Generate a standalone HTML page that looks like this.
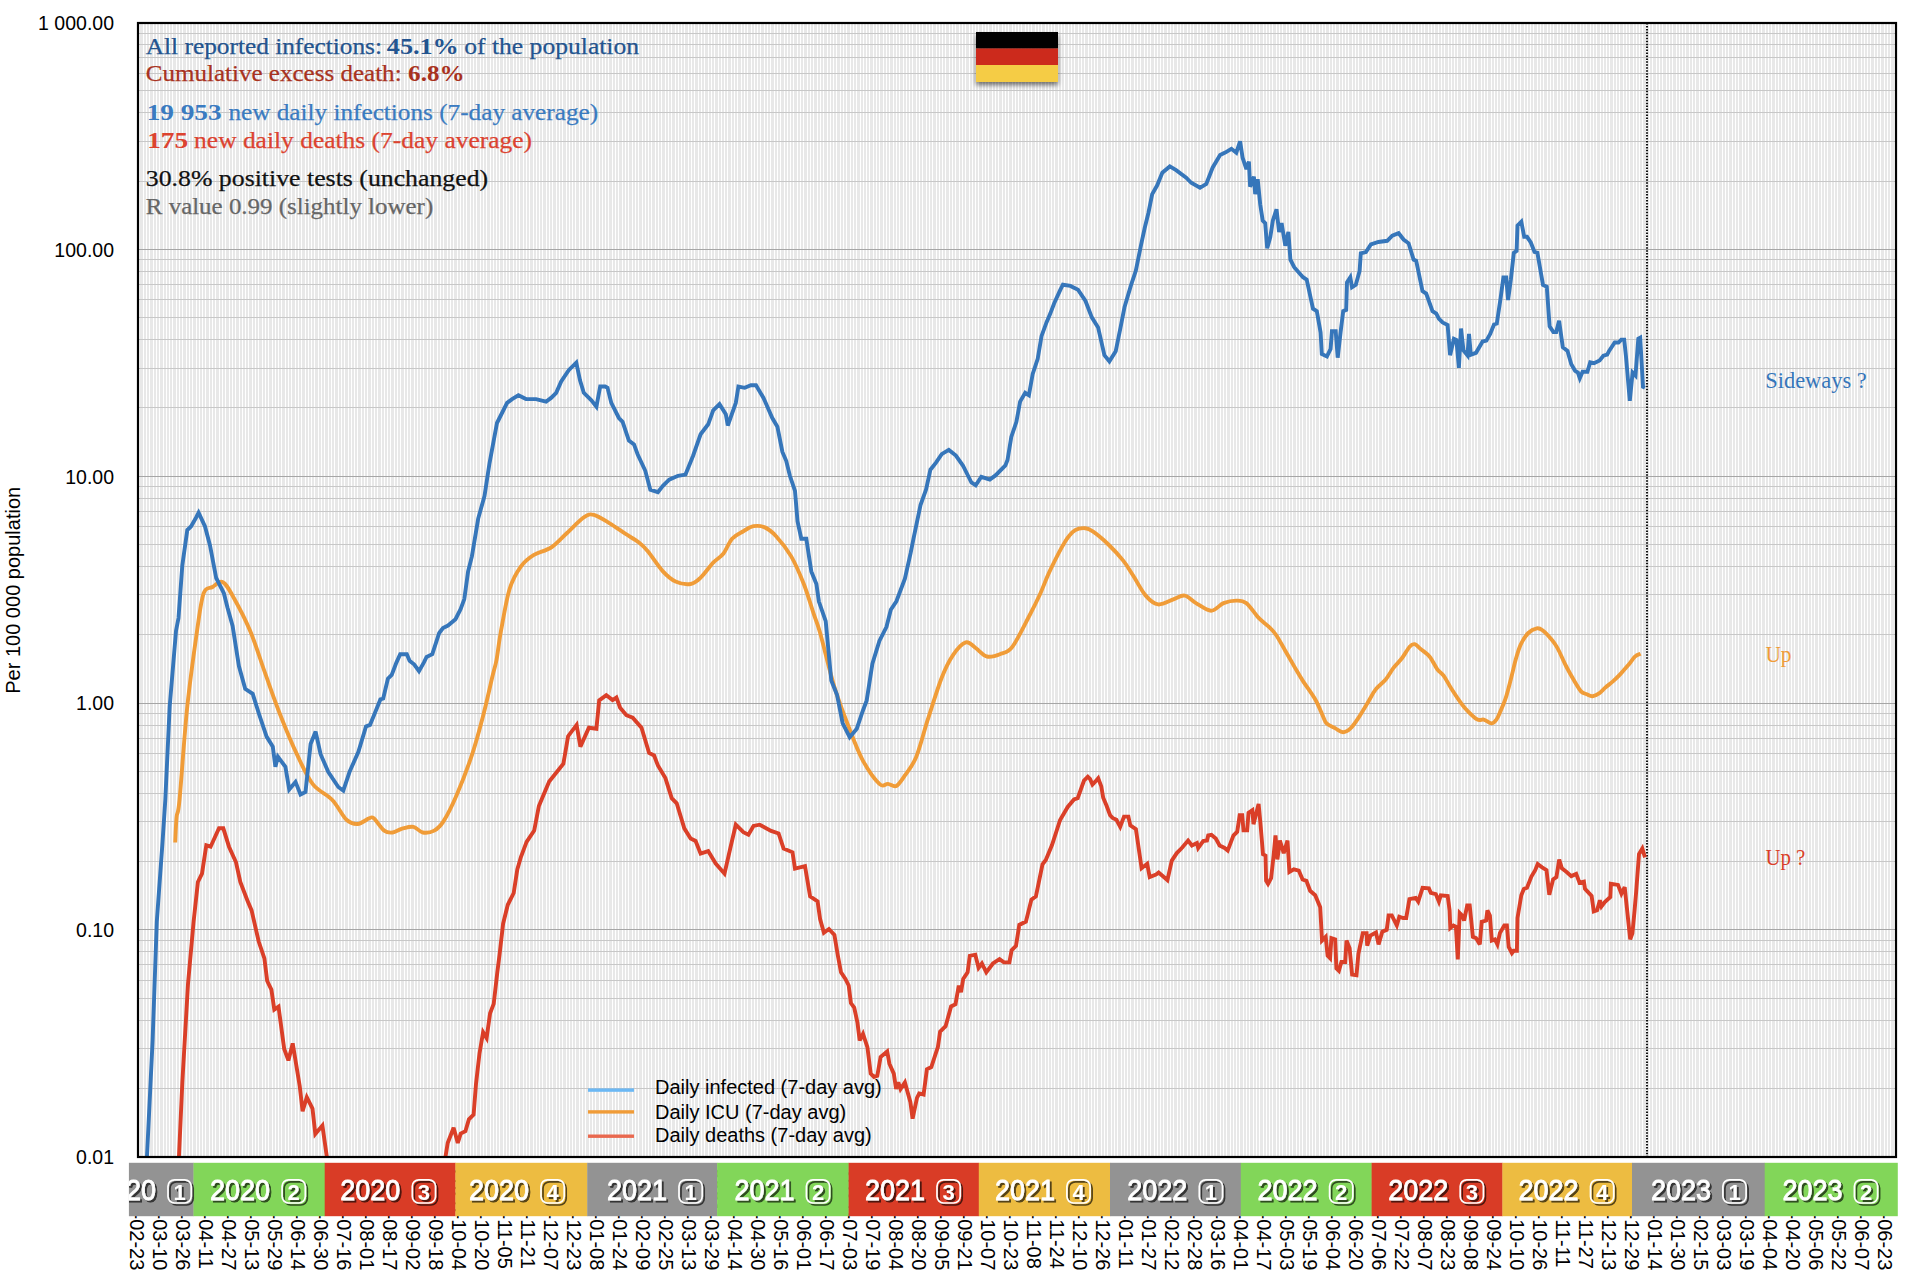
<!DOCTYPE html><html><head><meta charset="utf-8"><style>html,body{margin:0;padding:0;background:#fff;overflow:hidden;}svg{display:block;}</style></head><body>
<svg width="1910" height="1272" viewBox="0 0 1910 1272">
<defs>
<filter id="fshadow" x="-20%" y="-20%" width="140%" height="160%"><feGaussianBlur in="SourceAlpha" stdDeviation="2.5"/><feOffset dx="0" dy="3"/><feComponentTransfer><feFuncA type="linear" slope="0.55"/></feComponentTransfer><feMerge><feMergeNode/><feMergeNode in="SourceGraphic"/></feMerge></filter>
<filter id="tshadow" x="-10%" y="-10%" width="130%" height="140%"><feGaussianBlur in="SourceAlpha" stdDeviation="0.7"/><feOffset dx="1.5" dy="1.5"/><feComponentTransfer><feFuncA type="linear" slope="0.65"/></feComponentTransfer><feMerge><feMergeNode/><feMergeNode in="SourceGraphic"/></feMerge></filter>
<clipPath id="plotclip"><rect x="138" y="23" width="1758" height="1134"/></clipPath>
<clipPath id="barclip"><rect x="128.7" y="1150" width="1769.1" height="80"/></clipPath>
</defs>
<rect x="138" y="23" width="1758" height="1134" fill="#e8e8e8"/>
<path fill="#fff" d="M143 24h1v1132h-1zM146 24h1v1132h-1zM149 24h1v1132h-1zM153 24h1v1132h-1zM156 24h1v1132h-1zM159 24h1v1132h-1zM163 24h1v1132h-1zM166 24h1v1132h-1zM169 24h1v1132h-1zM172 24h1v1132h-1zM176 24h1v1132h-1zM179 24h1v1132h-1zM182 24h1v1132h-1zM186 24h1v1132h-1zM189 24h1v1132h-1zM192 24h1v1132h-1zM196 24h1v1132h-1zM199 24h1v1132h-1zM202 24h1v1132h-1zM205 24h1v1132h-1zM209 24h1v1132h-1zM212 24h1v1132h-1zM215 24h1v1132h-1zM219 24h1v1132h-1zM222 24h1v1132h-1zM225 24h1v1132h-1zM229 24h1v1132h-1zM232 24h1v1132h-1zM235 24h1v1132h-1zM239 24h1v1132h-1zM242 24h1v1132h-1zM245 24h1v1132h-1zM248 24h1v1132h-1zM252 24h1v1132h-1zM255 24h1v1132h-1zM258 24h1v1132h-1zM262 24h1v1132h-1zM265 24h1v1132h-1zM268 24h1v1132h-1zM272 24h1v1132h-1zM275 24h1v1132h-1zM278 24h1v1132h-1zM281 24h1v1132h-1zM285 24h1v1132h-1zM288 24h1v1132h-1zM291 24h1v1132h-1zM295 24h1v1132h-1zM298 24h1v1132h-1zM301 24h1v1132h-1zM305 24h1v1132h-1zM308 24h1v1132h-1zM311 24h1v1132h-1zM314 24h1v1132h-1zM318 24h1v1132h-1zM321 24h1v1132h-1zM324 24h1v1132h-1zM328 24h1v1132h-1zM331 24h1v1132h-1zM334 24h1v1132h-1zM338 24h1v1132h-1zM341 24h1v1132h-1zM344 24h1v1132h-1zM348 24h1v1132h-1zM351 24h1v1132h-1zM354 24h1v1132h-1zM357 24h1v1132h-1zM361 24h1v1132h-1zM364 24h1v1132h-1zM367 24h1v1132h-1zM371 24h1v1132h-1zM374 24h1v1132h-1zM377 24h1v1132h-1zM381 24h1v1132h-1zM384 24h1v1132h-1zM387 24h1v1132h-1zM390 24h1v1132h-1zM394 24h1v1132h-1zM397 24h1v1132h-1zM400 24h1v1132h-1zM404 24h1v1132h-1zM407 24h1v1132h-1zM410 24h1v1132h-1zM414 24h1v1132h-1zM417 24h1v1132h-1zM420 24h1v1132h-1zM423 24h1v1132h-1zM427 24h1v1132h-1zM430 24h1v1132h-1zM433 24h1v1132h-1zM437 24h1v1132h-1zM440 24h1v1132h-1zM443 24h1v1132h-1zM447 24h1v1132h-1zM450 24h1v1132h-1zM453 24h1v1132h-1zM457 24h1v1132h-1zM460 24h1v1132h-1zM463 24h1v1132h-1zM466 24h1v1132h-1zM470 24h1v1132h-1zM473 24h1v1132h-1zM476 24h1v1132h-1zM480 24h1v1132h-1zM483 24h1v1132h-1zM486 24h1v1132h-1zM490 24h1v1132h-1zM493 24h1v1132h-1zM496 24h1v1132h-1zM499 24h1v1132h-1zM503 24h1v1132h-1zM506 24h1v1132h-1zM509 24h1v1132h-1zM513 24h1v1132h-1zM516 24h1v1132h-1zM519 24h1v1132h-1zM523 24h1v1132h-1zM526 24h1v1132h-1zM529 24h1v1132h-1zM533 24h1v1132h-1zM536 24h1v1132h-1zM539 24h1v1132h-1zM542 24h1v1132h-1zM546 24h1v1132h-1zM549 24h1v1132h-1zM552 24h1v1132h-1zM556 24h1v1132h-1zM559 24h1v1132h-1zM562 24h1v1132h-1zM566 24h1v1132h-1zM569 24h1v1132h-1zM572 24h1v1132h-1zM575 24h1v1132h-1zM579 24h1v1132h-1zM582 24h1v1132h-1zM585 24h1v1132h-1zM589 24h1v1132h-1zM592 24h1v1132h-1zM595 24h1v1132h-1zM599 24h1v1132h-1zM602 24h1v1132h-1zM605 24h1v1132h-1zM608 24h1v1132h-1zM612 24h1v1132h-1zM615 24h1v1132h-1zM618 24h1v1132h-1zM622 24h1v1132h-1zM625 24h1v1132h-1zM628 24h1v1132h-1zM632 24h1v1132h-1zM635 24h1v1132h-1zM638 24h1v1132h-1zM642 24h1v1132h-1zM645 24h1v1132h-1zM648 24h1v1132h-1zM651 24h1v1132h-1zM655 24h1v1132h-1zM658 24h1v1132h-1zM661 24h1v1132h-1zM665 24h1v1132h-1zM668 24h1v1132h-1zM671 24h1v1132h-1zM675 24h1v1132h-1zM678 24h1v1132h-1zM681 24h1v1132h-1zM684 24h1v1132h-1zM688 24h1v1132h-1zM691 24h1v1132h-1zM694 24h1v1132h-1zM698 24h1v1132h-1zM701 24h1v1132h-1zM704 24h1v1132h-1zM708 24h1v1132h-1zM711 24h1v1132h-1zM714 24h1v1132h-1zM718 24h1v1132h-1zM721 24h1v1132h-1zM724 24h1v1132h-1zM727 24h1v1132h-1zM731 24h1v1132h-1zM734 24h1v1132h-1zM737 24h1v1132h-1zM741 24h1v1132h-1zM744 24h1v1132h-1zM747 24h1v1132h-1zM751 24h1v1132h-1zM754 24h1v1132h-1zM757 24h1v1132h-1zM760 24h1v1132h-1zM764 24h1v1132h-1zM767 24h1v1132h-1zM770 24h1v1132h-1zM774 24h1v1132h-1zM777 24h1v1132h-1zM780 24h1v1132h-1zM784 24h1v1132h-1zM787 24h1v1132h-1zM790 24h1v1132h-1zM793 24h1v1132h-1zM797 24h1v1132h-1zM800 24h1v1132h-1zM803 24h1v1132h-1zM807 24h1v1132h-1zM810 24h1v1132h-1zM813 24h1v1132h-1zM817 24h1v1132h-1zM820 24h1v1132h-1zM823 24h1v1132h-1zM827 24h1v1132h-1zM830 24h1v1132h-1zM833 24h1v1132h-1zM836 24h1v1132h-1zM840 24h1v1132h-1zM843 24h1v1132h-1zM846 24h1v1132h-1zM850 24h1v1132h-1zM853 24h1v1132h-1zM856 24h1v1132h-1zM860 24h1v1132h-1zM863 24h1v1132h-1zM866 24h1v1132h-1zM869 24h1v1132h-1zM873 24h1v1132h-1zM876 24h1v1132h-1zM879 24h1v1132h-1zM883 24h1v1132h-1zM886 24h1v1132h-1zM889 24h1v1132h-1zM893 24h1v1132h-1zM896 24h1v1132h-1zM899 24h1v1132h-1zM903 24h1v1132h-1zM906 24h1v1132h-1zM909 24h1v1132h-1zM912 24h1v1132h-1zM916 24h1v1132h-1zM919 24h1v1132h-1zM922 24h1v1132h-1zM926 24h1v1132h-1zM929 24h1v1132h-1zM932 24h1v1132h-1zM936 24h1v1132h-1zM939 24h1v1132h-1zM942 24h1v1132h-1zM945 24h1v1132h-1zM949 24h1v1132h-1zM952 24h1v1132h-1zM955 24h1v1132h-1zM959 24h1v1132h-1zM962 24h1v1132h-1zM965 24h1v1132h-1zM969 24h1v1132h-1zM972 24h1v1132h-1zM975 24h1v1132h-1zM978 24h1v1132h-1zM982 24h1v1132h-1zM985 24h1v1132h-1zM988 24h1v1132h-1zM992 24h1v1132h-1zM995 24h1v1132h-1zM998 24h1v1132h-1zM1002 24h1v1132h-1zM1005 24h1v1132h-1zM1008 24h1v1132h-1zM1012 24h1v1132h-1zM1015 24h1v1132h-1zM1018 24h1v1132h-1zM1021 24h1v1132h-1zM1025 24h1v1132h-1zM1028 24h1v1132h-1zM1031 24h1v1132h-1zM1035 24h1v1132h-1zM1038 24h1v1132h-1zM1041 24h1v1132h-1zM1045 24h1v1132h-1zM1048 24h1v1132h-1zM1051 24h1v1132h-1zM1054 24h1v1132h-1zM1058 24h1v1132h-1zM1061 24h1v1132h-1zM1064 24h1v1132h-1zM1068 24h1v1132h-1zM1071 24h1v1132h-1zM1074 24h1v1132h-1zM1078 24h1v1132h-1zM1081 24h1v1132h-1zM1084 24h1v1132h-1zM1088 24h1v1132h-1zM1091 24h1v1132h-1zM1094 24h1v1132h-1zM1097 24h1v1132h-1zM1101 24h1v1132h-1zM1104 24h1v1132h-1zM1107 24h1v1132h-1zM1111 24h1v1132h-1zM1114 24h1v1132h-1zM1117 24h1v1132h-1zM1121 24h1v1132h-1zM1124 24h1v1132h-1zM1127 24h1v1132h-1zM1130 24h1v1132h-1zM1134 24h1v1132h-1zM1137 24h1v1132h-1zM1140 24h1v1132h-1zM1144 24h1v1132h-1zM1147 24h1v1132h-1zM1150 24h1v1132h-1zM1154 24h1v1132h-1zM1157 24h1v1132h-1zM1160 24h1v1132h-1zM1163 24h1v1132h-1zM1167 24h1v1132h-1zM1170 24h1v1132h-1zM1173 24h1v1132h-1zM1177 24h1v1132h-1zM1180 24h1v1132h-1zM1183 24h1v1132h-1zM1187 24h1v1132h-1zM1190 24h1v1132h-1zM1193 24h1v1132h-1zM1197 24h1v1132h-1zM1200 24h1v1132h-1zM1203 24h1v1132h-1zM1206 24h1v1132h-1zM1210 24h1v1132h-1zM1213 24h1v1132h-1zM1216 24h1v1132h-1zM1220 24h1v1132h-1zM1223 24h1v1132h-1zM1226 24h1v1132h-1zM1230 24h1v1132h-1zM1233 24h1v1132h-1zM1236 24h1v1132h-1zM1239 24h1v1132h-1zM1243 24h1v1132h-1zM1246 24h1v1132h-1zM1249 24h1v1132h-1zM1253 24h1v1132h-1zM1256 24h1v1132h-1zM1259 24h1v1132h-1zM1263 24h1v1132h-1zM1266 24h1v1132h-1zM1269 24h1v1132h-1zM1272 24h1v1132h-1zM1276 24h1v1132h-1zM1279 24h1v1132h-1zM1282 24h1v1132h-1zM1286 24h1v1132h-1zM1289 24h1v1132h-1zM1292 24h1v1132h-1zM1296 24h1v1132h-1zM1299 24h1v1132h-1zM1302 24h1v1132h-1zM1306 24h1v1132h-1zM1309 24h1v1132h-1zM1312 24h1v1132h-1zM1315 24h1v1132h-1zM1319 24h1v1132h-1zM1322 24h1v1132h-1zM1325 24h1v1132h-1zM1329 24h1v1132h-1zM1332 24h1v1132h-1zM1335 24h1v1132h-1zM1339 24h1v1132h-1zM1342 24h1v1132h-1zM1345 24h1v1132h-1zM1348 24h1v1132h-1zM1352 24h1v1132h-1zM1355 24h1v1132h-1zM1358 24h1v1132h-1zM1362 24h1v1132h-1zM1365 24h1v1132h-1zM1368 24h1v1132h-1zM1372 24h1v1132h-1zM1375 24h1v1132h-1zM1378 24h1v1132h-1zM1382 24h1v1132h-1zM1385 24h1v1132h-1zM1388 24h1v1132h-1zM1391 24h1v1132h-1zM1395 24h1v1132h-1zM1398 24h1v1132h-1zM1401 24h1v1132h-1zM1405 24h1v1132h-1zM1408 24h1v1132h-1zM1411 24h1v1132h-1zM1415 24h1v1132h-1zM1418 24h1v1132h-1zM1421 24h1v1132h-1zM1424 24h1v1132h-1zM1428 24h1v1132h-1zM1431 24h1v1132h-1zM1434 24h1v1132h-1zM1438 24h1v1132h-1zM1441 24h1v1132h-1zM1444 24h1v1132h-1zM1448 24h1v1132h-1zM1451 24h1v1132h-1zM1454 24h1v1132h-1zM1457 24h1v1132h-1zM1461 24h1v1132h-1zM1464 24h1v1132h-1zM1467 24h1v1132h-1zM1471 24h1v1132h-1zM1474 24h1v1132h-1zM1477 24h1v1132h-1zM1481 24h1v1132h-1zM1484 24h1v1132h-1zM1487 24h1v1132h-1zM1491 24h1v1132h-1zM1494 24h1v1132h-1zM1497 24h1v1132h-1zM1500 24h1v1132h-1zM1504 24h1v1132h-1zM1507 24h1v1132h-1zM1510 24h1v1132h-1zM1514 24h1v1132h-1zM1517 24h1v1132h-1zM1520 24h1v1132h-1zM1524 24h1v1132h-1zM1527 24h1v1132h-1zM1530 24h1v1132h-1zM1533 24h1v1132h-1zM1537 24h1v1132h-1zM1540 24h1v1132h-1zM1543 24h1v1132h-1zM1547 24h1v1132h-1zM1550 24h1v1132h-1zM1553 24h1v1132h-1zM1557 24h1v1132h-1zM1560 24h1v1132h-1zM1563 24h1v1132h-1zM1567 24h1v1132h-1zM1570 24h1v1132h-1zM1573 24h1v1132h-1zM1576 24h1v1132h-1zM1580 24h1v1132h-1zM1583 24h1v1132h-1zM1586 24h1v1132h-1zM1590 24h1v1132h-1zM1593 24h1v1132h-1zM1596 24h1v1132h-1zM1600 24h1v1132h-1zM1603 24h1v1132h-1zM1606 24h1v1132h-1zM1609 24h1v1132h-1zM1613 24h1v1132h-1zM1616 24h1v1132h-1zM1619 24h1v1132h-1zM1623 24h1v1132h-1zM1626 24h1v1132h-1zM1629 24h1v1132h-1zM1633 24h1v1132h-1zM1636 24h1v1132h-1zM1639 24h1v1132h-1zM1642 24h1v1132h-1zM1646 24h1v1132h-1zM1649 24h1v1132h-1zM1652 24h1v1132h-1zM1656 24h1v1132h-1zM1659 24h1v1132h-1zM1662 24h1v1132h-1zM1666 24h1v1132h-1zM1669 24h1v1132h-1zM1672 24h1v1132h-1zM1676 24h1v1132h-1zM1679 24h1v1132h-1zM1682 24h1v1132h-1zM1685 24h1v1132h-1zM1689 24h1v1132h-1zM1692 24h1v1132h-1zM1695 24h1v1132h-1zM1699 24h1v1132h-1zM1702 24h1v1132h-1zM1705 24h1v1132h-1zM1709 24h1v1132h-1zM1712 24h1v1132h-1zM1715 24h1v1132h-1zM1718 24h1v1132h-1zM1722 24h1v1132h-1zM1725 24h1v1132h-1zM1728 24h1v1132h-1zM1732 24h1v1132h-1zM1735 24h1v1132h-1zM1738 24h1v1132h-1zM1742 24h1v1132h-1zM1745 24h1v1132h-1zM1748 24h1v1132h-1zM1752 24h1v1132h-1zM1755 24h1v1132h-1zM1758 24h1v1132h-1zM1761 24h1v1132h-1zM1765 24h1v1132h-1zM1768 24h1v1132h-1zM1771 24h1v1132h-1zM1775 24h1v1132h-1zM1778 24h1v1132h-1zM1781 24h1v1132h-1zM1785 24h1v1132h-1zM1788 24h1v1132h-1zM1791 24h1v1132h-1zM1794 24h1v1132h-1zM1798 24h1v1132h-1zM1801 24h1v1132h-1zM1804 24h1v1132h-1zM1808 24h1v1132h-1zM1811 24h1v1132h-1zM1814 24h1v1132h-1zM1818 24h1v1132h-1zM1821 24h1v1132h-1zM1824 24h1v1132h-1zM1827 24h1v1132h-1zM1831 24h1v1132h-1zM1834 24h1v1132h-1zM1837 24h1v1132h-1zM1841 24h1v1132h-1zM1844 24h1v1132h-1zM1847 24h1v1132h-1zM1851 24h1v1132h-1zM1854 24h1v1132h-1zM1857 24h1v1132h-1zM1861 24h1v1132h-1zM1864 24h1v1132h-1zM1867 24h1v1132h-1zM1870 24h1v1132h-1zM1874 24h1v1132h-1zM1877 24h1v1132h-1zM1880 24h1v1132h-1zM1884 24h1v1132h-1zM1887 24h1v1132h-1zM1890 24h1v1132h-1zM1894 24h1v1132h-1zM139 24h1v1132h-1z"/>
<path stroke="#c8c8c8" stroke-width="1" fill="none" d="M138 181.5H1896M138 141.5H1896M138 112.5H1896M138 90.5H1896M138 73.5H1896M138 57.5H1896M138 44.5H1896M138 33.5H1896M138 407.5H1896M138 368.5H1896M138 339.5H1896M138 317.5H1896M138 299.5H1896M138 284.5H1896M138 271.5H1896M138 259.5H1896M138 634.5H1896M138 594.5H1896M138 566.5H1896M138 544.5H1896M138 526.5H1896M138 511.5H1896M138 498.5H1896M138 486.5H1896M138 861.5H1896M138 821.5H1896M138 793.5H1896M138 771.5H1896M138 753.5H1896M138 738.5H1896M138 725.5H1896M138 713.5H1896M138 1088.5H1896M138 1048.5H1896M138 1020.5H1896M138 998.5H1896M138 980.5H1896M138 964.5H1896M138 951.5H1896M138 940.5H1896"/>
<path stroke="#a6a6a6" stroke-width="1" fill="none" d="M138 249.5H1896M138 476.5H1896M138 703.5H1896M138 929.5H1896"/>
<line x1="1647" y1="23" x2="1647" y2="1157" stroke="#111" stroke-width="2" stroke-dasharray="1.5,1.45"/>
<g clip-path="url(#plotclip)">
<path d="M175.2,842.5 C175.4,838.2 175.9,824.1 176.6,817.0 C177.3,809.9 177.7,818.4 179.5,800.0 C181.3,781.6 184.3,735.0 187.3,706.4 C190.3,677.8 194.7,647.3 197.4,628.4 C200.1,609.5 201.2,600.1 203.7,593.2 C206.2,586.3 209.4,588.9 212.5,587.0 C215.6,585.1 219.2,580.5 222.5,582.0 C225.8,583.5 228.0,587.5 232.6,595.7 C237.2,603.9 244.8,618.0 250.2,631.0 C255.6,644.0 260.3,659.7 265.3,673.7 C270.3,687.7 274.9,701.4 280.4,715.2 C285.8,729.0 292.6,745.2 298.0,756.7 C303.4,768.2 307.3,777.2 313.0,784.4 C318.7,791.6 326.7,794.1 332.3,800.0 C337.9,805.9 342.2,815.8 346.5,819.8 C350.8,823.8 354.1,824.2 357.8,824.0 C361.6,823.8 366.3,819.4 369.0,818.4 C371.7,817.4 371.3,816.3 373.8,818.3 C376.3,820.3 381.1,828.2 384.2,830.6 C387.3,833.0 389.6,832.8 392.6,832.5 C395.6,832.2 398.6,829.7 402.1,828.7 C405.6,827.8 409.9,826.2 413.4,826.8 C416.8,827.4 419.3,831.9 422.8,832.5 C426.3,833.1 430.7,832.5 434.2,830.6 C437.7,828.7 439.8,827.1 443.6,821.1 C447.4,815.1 452.1,805.7 456.8,794.7 C461.5,783.7 467.5,768.3 471.9,755.1 C476.3,741.9 479.8,728.7 483.2,715.5 C486.6,702.3 490.4,685.0 492.6,675.8 C494.8,666.5 495.1,667.3 496.5,660.0 C497.9,652.7 498.6,643.8 500.8,632.0 C503.0,620.2 506.2,599.9 509.6,589.0 C513.0,578.1 517.0,572.0 521.0,566.4 C525.0,560.8 528.5,558.2 533.5,555.1 C538.5,552.0 545.6,551.1 551.1,547.5 C556.6,543.9 560.8,538.7 566.2,533.7 C571.7,528.7 579.2,520.5 583.8,517.4 C588.4,514.2 589.5,513.8 593.9,514.8 C598.3,515.8 604.9,520.5 610.1,523.6 C615.3,526.8 620.4,530.6 625.2,533.7 C630.0,536.9 635.2,539.6 639.0,542.5 C642.8,545.4 643.8,546.5 647.8,551.3 C651.8,556.1 658.3,566.4 662.9,571.4 C667.5,576.4 670.9,579.4 675.5,581.5 C680.1,583.6 686.4,584.6 690.6,584.0 C694.8,583.4 696.8,581.3 700.6,577.7 C704.4,574.1 709.4,566.6 713.2,562.6 C717.0,558.6 720.1,557.8 723.3,553.8 C726.4,549.8 728.8,542.5 732.1,538.7 C735.5,534.9 739.8,533.3 743.4,531.2 C747.0,529.1 749.9,526.8 753.5,526.2 C757.1,525.6 761.0,525.7 764.8,527.4 C768.6,529.1 771.7,531.4 776.1,536.2 C780.5,541.0 786.6,548.4 791.2,556.4 C795.8,564.4 800.0,574.4 803.8,584.0 C807.6,593.6 811.1,606.1 813.8,614.2 C816.5,622.3 816.6,620.5 820.0,632.5 C823.4,644.5 829.5,670.7 834.2,686.3 C838.9,701.9 843.6,713.6 848.3,725.9 C853.0,738.1 857.3,750.1 862.5,759.8 C867.7,769.5 875.2,779.9 879.4,783.9 C883.6,787.9 885.1,783.6 887.9,783.9 C890.7,784.2 893.6,787.3 896.4,785.9 C899.2,784.5 901.6,780.2 904.9,775.4 C908.2,770.6 912.4,766.2 916.2,757.0 C920.0,747.8 923.4,733.4 927.6,720.2 C931.9,707.0 937.5,688.6 941.7,677.8 C945.9,666.9 949.0,661.0 953.0,655.1 C957.0,649.2 962.0,643.6 965.8,642.4 C969.6,641.2 972.2,645.6 975.7,648.0 C979.2,650.4 982.8,655.5 987.0,656.5 C991.2,657.5 996.9,655.4 1001.1,653.7 C1005.4,652.1 1007.8,653.0 1012.5,646.6 C1017.2,640.2 1024.9,624.2 1029.5,615.5 C1034.1,606.8 1036.6,601.8 1040.0,594.3 C1043.4,586.8 1045.9,579.2 1050.1,570.4 C1054.3,561.6 1061.0,548.2 1065.2,541.5 C1069.4,534.8 1071.9,532.4 1075.2,530.2 C1078.5,528.0 1082.4,528.0 1085.3,528.2 C1088.2,528.4 1089.0,528.8 1092.8,531.4 C1096.6,534.0 1102.9,539.2 1107.9,544.0 C1112.9,548.8 1118.8,555.1 1123.0,560.4 C1127.2,565.6 1129.3,569.6 1133.1,575.5 C1136.9,581.4 1141.5,590.8 1145.7,595.6 C1149.9,600.4 1153.6,603.8 1158.2,604.4 C1162.8,605.0 1168.9,600.9 1173.3,599.4 C1177.7,597.9 1180.9,595.0 1184.7,595.6 C1188.5,596.2 1191.6,600.6 1196.0,603.1 C1200.4,605.6 1206.5,610.7 1211.1,610.7 C1215.7,610.7 1219.4,604.8 1223.6,603.1 C1227.8,601.4 1232.4,600.6 1236.2,600.6 C1240.0,600.6 1242.5,600.2 1246.3,603.1 C1250.1,606.0 1255.0,614.1 1258.9,618.2 C1262.9,622.3 1267.1,624.9 1270.0,627.8 C1272.9,630.6 1273.8,631.5 1276.3,635.3 C1278.8,639.1 1281.9,644.9 1285.1,650.4 C1288.2,655.9 1292.3,663.1 1295.2,668.1 C1298.1,673.1 1299.4,675.4 1302.7,680.6 C1306.0,685.8 1312.0,693.6 1315.3,699.5 C1318.6,705.4 1320.9,711.8 1322.8,715.8 C1324.7,719.8 1324.5,721.3 1326.6,723.4 C1328.7,725.5 1332.7,726.9 1335.4,728.4 C1338.1,729.9 1340.5,732.2 1343.0,732.2 C1345.5,732.2 1348.0,730.7 1350.5,728.4 C1353.0,726.1 1355.2,722.8 1358.1,718.4 C1361.0,714.0 1365.2,706.8 1368.1,702.0 C1371.0,697.2 1372.8,693.2 1375.7,689.4 C1378.6,685.6 1382.8,682.9 1385.7,679.4 C1388.6,675.9 1390.6,671.7 1393.3,668.1 C1396.0,664.5 1399.4,661.6 1402.1,658.0 C1404.8,654.4 1407.5,649.0 1409.6,646.7 C1411.7,644.4 1412.8,643.8 1414.7,644.2 C1416.6,644.6 1418.4,647.1 1420.9,649.2 C1423.4,651.3 1427.0,653.4 1429.7,656.7 C1432.4,660.1 1435.0,666.1 1437.3,669.3 C1439.6,672.4 1441.3,672.5 1443.6,675.6 C1445.9,678.8 1448.2,683.6 1451.1,688.2 C1454.0,692.8 1458.3,699.3 1461.2,703.3 C1464.1,707.3 1466.0,709.4 1468.7,712.1 C1471.4,714.8 1475.0,718.4 1477.5,719.6 C1480.0,720.9 1481.5,719.0 1483.8,719.6 C1486.1,720.2 1489.3,723.4 1491.4,723.4 C1493.5,723.4 1495.0,721.5 1496.4,719.6 C1497.8,717.8 1498.5,715.9 1500.0,712.3 C1501.5,708.7 1503.8,703.9 1505.7,698.1 C1507.6,692.3 1509.6,684.0 1511.3,677.4 C1513.0,670.8 1514.4,664.0 1516.0,658.5 C1517.6,653.0 1518.8,648.5 1520.8,644.3 C1522.8,640.0 1525.6,635.7 1528.3,633.0 C1531.0,630.3 1534.4,628.8 1536.8,628.3 C1539.2,627.8 1540.2,628.5 1542.5,630.2 C1544.8,631.9 1548.4,635.7 1550.9,638.7 C1553.4,641.7 1555.0,643.6 1557.5,648.1 C1560.0,652.6 1563.0,660.2 1566.0,666.0 C1569.0,671.8 1573.0,678.8 1575.5,683.0 C1578.0,687.2 1579.2,689.6 1581.1,691.5 C1583.0,693.4 1584.9,693.5 1586.8,694.3 C1588.7,695.1 1590.5,696.4 1592.5,696.2 C1594.5,696.1 1596.9,694.9 1599.1,693.4 C1601.3,691.9 1603.3,689.3 1605.7,687.3 C1608.1,685.2 1610.7,683.4 1613.2,681.1 C1615.7,678.8 1618.3,676.3 1620.8,673.6 C1623.3,670.9 1625.9,667.9 1628.3,665.1 C1630.7,662.3 1632.9,658.5 1634.9,656.6 C1637.0,654.7 1639.6,654.3 1640.6,653.8" fill="none" stroke="#f09c38" stroke-width="3.9" stroke-linejoin="round"/>
<polyline points="178.9,1158.0 182.3,1083.0 188.0,984.0 193.6,921.7 197.9,882.0 202.0,873.6 206.3,845.3 210.6,846.7 219.0,828.3 223.3,828.3 229.0,846.7 236.0,862.3 240.3,882.0 247.4,900.5 251.6,910.4 258.7,941.5 264.4,958.5 267.2,981.0 271.4,989.6 274.3,1009.5 278.5,1006.6 284.2,1049.0 288.4,1060.4 292.7,1043.4 299.7,1085.9 302.6,1111.3 306.8,1097.2 312.5,1108.5 315.3,1134.0 322.4,1125.5 327.0,1158.0" fill="none" stroke="#da3f28" stroke-width="3.9" stroke-linejoin="miter" stroke-miterlimit="3" stroke-linecap="butt"/>
<polyline points="445.3,1158.0 447.7,1143.0 453.6,1127.7 457.8,1143.0 460.7,1133.6 465.4,1131.2 468.9,1119.4 473.6,1114.7 476.0,1084.0 479.5,1053.4 483.1,1032.2 486.6,1038.0 490.1,1013.3 493.7,1003.9 497.2,973.2 499.6,954.3 503.1,923.7 507.8,904.8 513.7,893.0 517.3,869.4 520.9,857.0 526.6,841.9 534.2,830.6 538.9,806.0 543.6,794.7 549.2,781.5 556.8,772.1 563.4,763.6 568.1,736.2 576.6,724.9 580.4,746.6 588.9,727.7 596.4,728.7 599.2,700.4 606.3,695.1 612.6,700.1 616.4,697.6 620.1,707.7 626.4,715.2 632.7,717.7 641.5,727.8 649.1,753.0 654.1,755.5 657.9,765.5 665.4,778.1 671.7,798.2 676.7,803.3 684.3,828.4 690.6,838.5 695.6,841.0 700.6,853.6 708.2,851.1 715.7,863.6 724.5,873.7 730.8,846.0 735.8,824.7 743.4,832.2 748.4,834.7 753.5,825.9 759.7,824.7 771.1,830.9 778.6,833.5 783.6,848.6 792.5,852.3 795.0,868.7 805.0,866.2 810.1,896.4 817.6,901.4 820.1,919.0 823.9,932.8 828.9,929.0 834.4,934.9 837.7,954.7 841.0,972.3 845.4,978.9 848.7,985.5 850.9,1003.1 854.2,1007.5 857.5,1022.9 859.7,1040.5 863.0,1033.9 867.4,1047.1 870.7,1073.6 874.0,1076.9 877.3,1075.8 880.6,1057.0 887.2,1051.5 889.4,1063.7 893.8,1073.6 896.1,1089.0 898.3,1082.4 900.5,1089.0 904.9,1082.4 910.4,1102.2 912.6,1118.7 917.0,1097.8 919.2,1093.4 923.6,1094.5 926.9,1069.2 931.3,1067.0 935.7,1053.7 937.9,1047.1 940.1,1031.7 945.6,1026.2 951.1,1006.4 955.5,1004.2 958.8,985.5 961.0,992.1 963.2,978.9 967.6,972.3 969.8,955.8 975.3,954.7 978.6,967.9 981.9,963.5 986.3,972.3 992.9,963.5 999.5,959.1 1003.9,962.4 1009.4,962.4 1011.6,950.3 1016.0,945.9 1019.3,924.9 1025.9,921.6 1031.4,899.6 1035.9,896.3 1042.5,864.4 1045.8,860.0 1052.0,845.0 1060.1,820.0 1067.7,806.9 1074.0,799.4 1077.7,798.1 1084.0,780.5 1087.8,776.7 1090.0,778.9 1092.5,784.5 1095.0,782.0 1098.2,778.2 1101.3,786.4 1103.2,797.7 1106.4,805.3 1110.1,815.3 1112.6,817.9 1116.4,819.7 1120.2,826.7 1124.0,816.6 1128.4,816.6 1130.3,825.4 1135.9,829.2 1141.6,868.2 1147.2,863.8 1149.7,877.0 1156.0,874.5 1158.6,872.6 1167.4,880.1 1171.8,860.6 1176.8,853.1 1181.8,848.0 1188.1,840.5 1191.9,845.5 1196.9,843.0 1198.2,848.0 1203.2,841.1 1207.0,840.5 1208.2,835.5 1211.4,834.8 1215.8,838.6 1219.6,845.5 1224.6,848.0 1227.7,850.6 1233.4,835.5 1237.2,831.7 1239.7,815.3 1242.2,815.3 1243.5,830.4 1247.2,830.4 1248.5,812.8 1252.3,810.3 1253.5,824.2 1258.6,804.0 1260.4,822.9 1263.0,854.3 1265.5,855.6 1266.1,880.8 1268.0,883.9 1271.1,878.2 1273.6,855.6 1275.5,835.5 1277.4,859.4 1279.9,840.5 1283.7,853.1 1287.5,840.5 1289.4,872.0 1293.8,869.4 1298.8,870.7 1302.6,879.5 1306.4,880.8 1310.1,890.8 1315.2,895.2 1320.2,907.2 1322.0,940.6 1325.7,936.9 1327.6,955.7 1330.1,958.2 1331.4,938.1 1335.2,939.4 1336.4,968.3 1338.9,970.8 1341.4,962.0 1345.2,962.0 1346.5,940.6 1349.6,948.2 1352.1,974.6 1356.5,975.2 1358.4,953.8 1362.8,933.1 1366.6,933.1 1367.2,945.7 1370.4,935.6 1376.0,932.5 1378.6,944.4 1382.3,931.8 1386.7,929.9 1388.6,915.5 1391.8,915.5 1396.8,925.5 1399.3,916.7 1403.1,918.0 1406.2,918.0 1409.4,899.1 1415.7,897.9 1418.2,901.6 1422.6,887.8 1428.9,888.4 1430.8,892.8 1435.8,894.1 1438.9,901.6 1440.8,895.3 1447.7,896.0 1449.6,910.4 1450.3,928.0 1453.4,925.5 1455.9,926.8 1457.8,959.5 1459.7,913.0 1462.2,915.5 1464.1,920.5 1467.2,905.4 1469.7,905.4 1472.9,936.9 1476.0,938.1 1479.8,944.4 1481.7,921.8 1486.1,920.5 1487.4,910.4 1489.9,915.5 1491.8,940.6 1494.9,939.4 1497.4,944.4 1499.9,933.1 1504.3,925.5 1506.9,925.5 1508.7,946.9 1511.9,953.2 1513.8,950.7 1516.9,950.7 1517.5,918.0 1521.3,895.3 1523.8,889.0 1527.0,887.8 1531.4,876.5 1535.2,870.2 1537.7,864.0 1542.1,867.3 1546.5,870.1 1549.3,894.8 1553.1,879.4 1556.4,877.2 1559.2,859.6 1561.9,868.4 1566.3,871.7 1571.3,876.1 1576.2,873.9 1579.5,882.7 1583.9,881.6 1585.0,888.8 1591.6,895.9 1593.8,911.4 1597.1,910.3 1599.9,900.3 1601.5,906.4 1604.8,902.0 1610.3,897.0 1610.9,883.8 1618.0,884.9 1621.4,893.7 1624.7,887.1 1626.9,908.0 1630.2,939.4 1632.4,933.4 1634.6,910.2 1636.2,891.5 1639.0,854.1 1642.3,848.6 1645.0,857.4" fill="none" stroke="#da3f28" stroke-width="3.9" stroke-linejoin="miter" stroke-miterlimit="3" stroke-linecap="butt"/>
<polyline points="146.9,1158.0 152.6,1040.6 156.8,921.7 162.5,842.5 165.3,800.0 169.7,706.4 176.0,631.0 178.5,618.0 182.3,565.5 187.3,530.0 191.0,526.5 196.0,517.7 198.6,512.7 205.0,526.5 210.0,545.4 216.2,578.0 223.8,593.0 227.6,608.0 232.6,626.0 238.9,666.0 245.2,688.8 252.7,693.8 259.0,714.0 266.6,736.6 272.8,746.7 275.4,766.8 277.9,756.7 285.4,766.8 289.2,789.4 295.5,781.9 300.5,794.5 305.5,792.0 310.6,744.0 315.6,731.6 320.6,754.2 328.2,771.8 338.3,787.0 343.3,790.7 349.6,771.8 358.4,751.7 366.0,726.5 370.0,724.9 374.7,713.6 380.4,699.4 383.2,698.5 387.9,678.7 391.7,674.9 396.4,662.6 400.2,654.2 406.8,654.2 409.6,660.8 414.3,664.5 419.0,671.1 423.8,662.6 426.6,657.0 432.3,654.2 439.2,633.0 443.0,628.0 448.0,625.5 455.5,619.2 460.6,609.2 464.3,599.1 468.1,571.4 471.9,556.4 478.2,518.6 484.5,496.0 489.5,463.3 497.0,423.0 507.1,402.9 512.1,399.1 518.4,395.3 526.0,399.1 536.0,399.1 546.1,401.6 551.1,397.9 556.2,392.8 561.2,381.5 568.7,370.2 576.3,362.6 580.0,380.3 583.8,392.8 591.4,400.4 596.4,406.7 600.2,386.5 605.2,386.5 607.5,387.8 611.3,402.9 618.9,418.0 622.6,421.8 628.9,440.6 634.0,444.4 637.7,454.5 645.3,470.8 650.3,489.7 657.9,492.2 662.9,485.9 669.2,479.6 678.0,475.8 685.5,474.6 693.1,455.7 700.6,434.3 708.2,424.3 713.2,410.4 719.5,404.2 725.8,414.2 727.8,425.5 735.8,402.9 738.4,386.5 744.7,387.8 750.9,385.3 756.0,385.3 763.5,397.9 772.3,418.0 777.4,426.8 782.4,452.0 786.2,460.8 789.9,475.8 795.0,491.0 797.5,521.1 801.3,538.7 806.3,538.7 811.3,571.4 816.4,584.0 818.9,601.6 825.7,621.1 831.3,680.6 837.0,694.7 842.6,723.0 849.7,737.2 856.8,728.7 862.5,711.7 866.7,700.4 872.4,663.6 879.4,641.0 886.5,626.8 890.8,609.8 896.4,601.3 904.9,578.7 910.6,553.2 913.4,539.1 920.5,505.1 926.1,489.5 930.4,469.7 936.0,462.6 941.7,454.2 948.8,449.9 955.9,455.6 962.9,465.5 971.4,482.5 975.7,485.3 981.3,476.8 989.8,479.6 995.5,475.4 1005.4,465.5 1007.5,460.0 1011.3,436.9 1016.4,421.8 1020.1,401.6 1025.2,392.8 1028.9,395.3 1032.7,374.0 1037.7,358.9 1041.5,336.2 1046.5,322.4 1050.3,313.6 1054.1,303.5 1060.4,289.7 1062.9,284.7 1070.4,285.9 1078.0,289.7 1085.5,301.0 1091.8,317.4 1098.1,327.4 1104.4,355.1 1109.4,361.4 1115.7,351.3 1120.8,326.2 1124.5,307.3 1130.8,285.9 1135.8,270.8 1140.9,245.7 1144.7,228.0 1148.4,213.0 1152.2,194.1 1157.2,185.3 1162.3,172.7 1169.8,166.4 1176.1,170.2 1186.2,177.7 1191.2,182.8 1200.0,187.8 1206.3,184.0 1212.6,167.7 1220.1,155.1 1225.2,152.6 1231.4,148.8 1236.3,152.7 1240.1,141.4 1242.6,157.7 1246.4,169.1 1248.9,161.5 1250.1,186.7 1253.9,176.6 1255.2,194.2 1257.7,179.1 1260.2,204.3 1262.7,220.6 1265.2,223.1 1267.2,248.3 1270.3,237.0 1272.8,220.6 1276.5,209.3 1279.1,232.0 1281.6,223.1 1285.3,245.8 1288.4,232.0 1290.4,259.6 1294.2,267.2 1303.0,277.2 1306.7,279.7 1313.0,308.7 1316.8,311.2 1320.6,332.6 1321.8,354.0 1326.9,356.5 1330.6,348.9 1331.9,331.3 1335.7,331.3 1337.7,357.7 1340.7,331.3 1343.2,311.2 1346.2,309.9 1347.0,282.3 1350.3,277.2 1352.0,287.3 1355.8,284.8 1359.6,270.9 1360.8,253.3 1365.9,252.1 1370.9,244.5 1378.4,242.0 1387.2,240.8 1392.3,235.7 1398.6,233.2 1403.6,239.5 1408.6,243.3 1413.6,259.6 1416.2,260.9 1422.5,291.1 1426.2,293.6 1432.5,311.2 1436.3,313.7 1438.8,318.7 1442.6,322.5 1447.6,325.0 1450.1,355.2 1453.9,338.9 1456.4,340.1 1458.9,367.8 1461.0,328.5 1463.5,350.5 1467.5,355.5 1469.0,334.0 1470.8,354.7 1476.0,352.8 1482.6,341.5 1486.4,340.6 1490.2,334.0 1494.0,324.5 1496.8,323.6 1500.6,298.1 1503.4,277.4 1506.2,277.4 1508.1,300.0 1510.9,279.2 1513.8,252.8 1516.6,250.9 1517.5,225.5 1521.3,221.7 1524.2,236.8 1527.0,236.8 1530.8,242.5 1534.5,251.9 1537.4,252.8 1543.0,284.9 1546.8,286.8 1549.6,326.4 1553.4,332.1 1556.2,332.1 1559.1,320.8 1562.8,347.2 1567.5,350.9 1571.3,364.2 1575.1,370.8 1577.9,372.6 1579.8,378.3 1582.6,371.7 1587.4,371.7 1590.2,362.3 1594.0,363.2 1599.6,360.4 1603.4,355.7 1607.2,354.7 1609.1,350.9 1614.7,342.5 1618.5,342.5 1621.3,339.6 1624.2,339.6 1626.0,356.6 1629.8,400.9 1632.6,372.6 1635.5,375.5 1638.3,338.7 1640.2,337.7 1643.0,386.8 1644.9,387.7" fill="none" stroke="#3676ba" stroke-width="3.9" stroke-linejoin="miter" stroke-miterlimit="3" stroke-linecap="butt"/>
</g>
<rect x="138" y="23" width="1758" height="1134" fill="none" stroke="#000" stroke-width="2.2"/>
<g filter="url(#fshadow)"><rect x="976" y="32" width="82" height="16.5" fill="#000"/><rect x="976" y="48.5" width="82" height="16.5" fill="#cc2c1f"/><rect x="976" y="65" width="82" height="17" fill="#f5cc45"/></g>
<g font-family="'Liberation Serif', serif" font-size="24">
<text x="145.8" y="53.9" fill="#23548f" stroke="#23548f" stroke-width="0.25" textLength="236.2" lengthAdjust="spacingAndGlyphs">All reported infections:</text>
<text x="386.8" y="53.9" fill="#23548f" font-weight="bold" textLength="72.0" lengthAdjust="spacingAndGlyphs">45.1%</text>
<text x="464.2" y="53.9" fill="#23548f" stroke="#23548f" stroke-width="0.25" textLength="174.9" lengthAdjust="spacingAndGlyphs">of the population</text>
<text x="145.8" y="81.1" fill="#a83220" stroke="#a83220" stroke-width="0.25" textLength="255.8" lengthAdjust="spacingAndGlyphs">Cumulative excess death:</text>
<text x="408.1" y="81.1" fill="#a83220" font-weight="bold" textLength="56.5" lengthAdjust="spacingAndGlyphs">6.8%</text>
<text x="146.7" y="119.8" fill="#3a7bc1" font-weight="bold" textLength="74.9" lengthAdjust="spacingAndGlyphs">19 953</text>
<text x="228.4" y="119.8" fill="#3a7bc1" stroke="#3a7bc1" stroke-width="0.25" textLength="369.7" lengthAdjust="spacingAndGlyphs">new daily infections (7-day average)</text>
<text x="147.2" y="147.8" fill="#dc4330" font-weight="bold" textLength="40.9" lengthAdjust="spacingAndGlyphs">175</text>
<text x="194.1" y="147.8" fill="#dc4330" stroke="#dc4330" stroke-width="0.25" textLength="338.0" lengthAdjust="spacingAndGlyphs">new daily deaths (7-day average)</text>
<text x="145.8" y="185.5" fill="#111" stroke="#111" stroke-width="0.25" textLength="342.4" lengthAdjust="spacingAndGlyphs">30.8% positive tests (unchanged)</text>
<text x="145.8" y="213.6" fill="#666" stroke="#666" stroke-width="0.25" textLength="287.4" lengthAdjust="spacingAndGlyphs">R value 0.99 (slightly lower)</text>
</g>
<g font-family="'Liberation Serif', serif" font-size="23">
<text x="1765.2" y="387.8" fill="#3676ba" textLength="101.6" lengthAdjust="spacingAndGlyphs">Sideways ?</text>
<text x="1765.4" y="661.8" fill="#f09c38" textLength="26.2" lengthAdjust="spacingAndGlyphs">Up</text>
<text x="1765.4" y="864.8" fill="#da3f28" textLength="40" lengthAdjust="spacingAndGlyphs">Up ?</text>
</g>
<g>
<rect x="588" y="1088.4" width="46" height="3.4" fill="#6cb8f4"/>
<rect x="588" y="1110.2" width="46" height="3.4" fill="#f09c38"/>
<rect x="588" y="1134.5" width="46" height="3.4" fill="#e9694f"/>
<g font-family="'Liberation Sans', sans-serif" font-size="20" fill="#000">
<text x="655" y="1094.3">Daily infected (7-day avg)</text>
<text x="655" y="1118.6">Daily ICU (7-day avg)</text>
<text x="655" y="1142">Daily deaths (7-day avg)</text>
</g></g>
<g font-family="'Liberation Sans', sans-serif" font-size="19.5" fill="#000" text-anchor="end">
<text x="114" y="30.0">1 000.00</text>
<text x="114" y="256.8">100.00</text>
<text x="114" y="483.6">10.00</text>
<text x="114" y="710.4">1.00</text>
<text x="114" y="937.2">0.10</text>
<text x="114" y="1164.0">0.01</text>
</g>
<text font-family="'Liberation Sans', sans-serif" font-size="19.5" fill="#000" textLength="207" lengthAdjust="spacingAndGlyphs" transform="translate(19.5,693.8) rotate(-90)">Per 100 000 population</text>
<g font-family="'Liberation Sans', sans-serif" font-size="20" fill="#000">
<text transform="translate(130.0,1168) rotate(90)">2020-02-23</text>
<text transform="translate(153.0,1168) rotate(90)">2020-03-10</text>
<text transform="translate(176.0,1168) rotate(90)">2020-03-26</text>
<text transform="translate(199.0,1168) rotate(90)">2020-04-11</text>
<text transform="translate(222.0,1168) rotate(90)">2020-04-27</text>
<text transform="translate(245.0,1168) rotate(90)">2020-05-13</text>
<text transform="translate(268.0,1168) rotate(90)">2020-05-29</text>
<text transform="translate(291.0,1168) rotate(90)">2020-06-14</text>
<text transform="translate(314.0,1168) rotate(90)">2020-06-30</text>
<text transform="translate(337.0,1168) rotate(90)">2020-07-16</text>
<text transform="translate(360.0,1168) rotate(90)">2020-08-01</text>
<text transform="translate(383.0,1168) rotate(90)">2020-08-17</text>
<text transform="translate(406.0,1168) rotate(90)">2020-09-02</text>
<text transform="translate(429.0,1168) rotate(90)">2020-09-18</text>
<text transform="translate(452.0,1168) rotate(90)">2020-10-04</text>
<text transform="translate(475.0,1168) rotate(90)">2020-10-20</text>
<text transform="translate(498.0,1168) rotate(90)">2020-11-05</text>
<text transform="translate(521.0,1168) rotate(90)">2020-11-21</text>
<text transform="translate(544.0,1168) rotate(90)">2020-12-07</text>
<text transform="translate(567.0,1168) rotate(90)">2020-12-23</text>
<text transform="translate(590.0,1168) rotate(90)">2021-01-08</text>
<text transform="translate(613.0,1168) rotate(90)">2021-01-24</text>
<text transform="translate(636.0,1168) rotate(90)">2021-02-09</text>
<text transform="translate(659.0,1168) rotate(90)">2021-02-25</text>
<text transform="translate(682.0,1168) rotate(90)">2021-03-13</text>
<text transform="translate(705.0,1168) rotate(90)">2021-03-29</text>
<text transform="translate(728.0,1168) rotate(90)">2021-04-14</text>
<text transform="translate(751.0,1168) rotate(90)">2021-04-30</text>
<text transform="translate(774.0,1168) rotate(90)">2021-05-16</text>
<text transform="translate(797.0,1168) rotate(90)">2021-06-01</text>
<text transform="translate(820.0,1168) rotate(90)">2021-06-17</text>
<text transform="translate(843.0,1168) rotate(90)">2021-07-03</text>
<text transform="translate(866.0,1168) rotate(90)">2021-07-19</text>
<text transform="translate(889.0,1168) rotate(90)">2021-08-04</text>
<text transform="translate(912.0,1168) rotate(90)">2021-08-20</text>
<text transform="translate(935.0,1168) rotate(90)">2021-09-05</text>
<text transform="translate(958.0,1168) rotate(90)">2021-09-21</text>
<text transform="translate(981.0,1168) rotate(90)">2021-10-07</text>
<text transform="translate(1004.0,1168) rotate(90)">2021-10-23</text>
<text transform="translate(1027.0,1168) rotate(90)">2021-11-08</text>
<text transform="translate(1050.0,1168) rotate(90)">2021-11-24</text>
<text transform="translate(1073.0,1168) rotate(90)">2021-12-10</text>
<text transform="translate(1096.0,1168) rotate(90)">2021-12-26</text>
<text transform="translate(1119.0,1168) rotate(90)">2022-01-11</text>
<text transform="translate(1142.0,1168) rotate(90)">2022-01-27</text>
<text transform="translate(1165.0,1168) rotate(90)">2022-02-12</text>
<text transform="translate(1188.0,1168) rotate(90)">2022-02-28</text>
<text transform="translate(1211.0,1168) rotate(90)">2022-03-16</text>
<text transform="translate(1234.0,1168) rotate(90)">2022-04-01</text>
<text transform="translate(1257.0,1168) rotate(90)">2022-04-17</text>
<text transform="translate(1280.0,1168) rotate(90)">2022-05-03</text>
<text transform="translate(1303.0,1168) rotate(90)">2022-05-19</text>
<text transform="translate(1326.0,1168) rotate(90)">2022-06-04</text>
<text transform="translate(1349.0,1168) rotate(90)">2022-06-20</text>
<text transform="translate(1372.0,1168) rotate(90)">2022-07-06</text>
<text transform="translate(1395.0,1168) rotate(90)">2022-07-22</text>
<text transform="translate(1418.0,1168) rotate(90)">2022-08-07</text>
<text transform="translate(1441.0,1168) rotate(90)">2022-08-23</text>
<text transform="translate(1464.0,1168) rotate(90)">2022-09-08</text>
<text transform="translate(1487.0,1168) rotate(90)">2022-09-24</text>
<text transform="translate(1510.0,1168) rotate(90)">2022-10-10</text>
<text transform="translate(1533.0,1168) rotate(90)">2022-10-26</text>
<text transform="translate(1556.0,1168) rotate(90)">2022-11-11</text>
<text transform="translate(1579.0,1168) rotate(90)">2022-11-27</text>
<text transform="translate(1602.0,1168) rotate(90)">2022-12-13</text>
<text transform="translate(1625.0,1168) rotate(90)">2022-12-29</text>
<text transform="translate(1648.0,1168) rotate(90)">2023-01-14</text>
<text transform="translate(1671.0,1168) rotate(90)">2023-01-30</text>
<text transform="translate(1694.0,1168) rotate(90)">2023-02-15</text>
<text transform="translate(1717.0,1168) rotate(90)">2023-03-03</text>
<text transform="translate(1740.0,1168) rotate(90)">2023-03-19</text>
<text transform="translate(1763.0,1168) rotate(90)">2023-04-04</text>
<text transform="translate(1786.0,1168) rotate(90)">2023-04-20</text>
<text transform="translate(1809.0,1168) rotate(90)">2023-05-06</text>
<text transform="translate(1832.0,1168) rotate(90)">2023-05-22</text>
<text transform="translate(1855.0,1168) rotate(90)">2023-06-07</text>
<text transform="translate(1878.0,1168) rotate(90)">2023-06-23</text>
</g>
<g clip-path="url(#barclip)">
<rect x="128.7" y="1162.8" width="65.1" height="53.4" fill="#939393"/>
<rect x="193.5" y="1162.8" width="131.5" height="53.4" fill="#82d659"/>
<rect x="324.7" y="1162.8" width="131.0" height="53.4" fill="#d93c26"/>
<rect x="455.4" y="1162.8" width="132.1" height="53.4" fill="#edbc41"/>
<rect x="587.2" y="1162.8" width="130.2" height="53.4" fill="#939393"/>
<rect x="717.1" y="1162.8" width="131.8" height="53.4" fill="#82d659"/>
<rect x="848.6" y="1162.8" width="130.5" height="53.4" fill="#d93c26"/>
<rect x="978.8" y="1162.8" width="131.5" height="53.4" fill="#edbc41"/>
<rect x="1110.0" y="1162.8" width="131.1" height="53.4" fill="#939393"/>
<rect x="1240.8" y="1162.8" width="131.1" height="53.4" fill="#82d659"/>
<rect x="1371.6" y="1162.8" width="131.1" height="53.4" fill="#d93c26"/>
<rect x="1502.4" y="1162.8" width="129.9" height="53.4" fill="#edbc41"/>
<rect x="1632.0" y="1162.8" width="133.0" height="53.4" fill="#939393"/>
<rect x="1764.7" y="1162.8" width="133.4" height="53.4" fill="#82d659"/>
<g filter="url(#tshadow)">
<text font-family="'Liberation Sans', sans-serif" font-size="29" fill="#fff" stroke="#fff" stroke-width="0.8" x="96.0" y="1199.6" textLength="60" lengthAdjust="spacingAndGlyphs">2020</text>
<rect x="168.0" y="1179.8" width="23.2" height="23.2" rx="6.5" fill="none" stroke="#fff" stroke-width="1.7"/>
<text font-family="'Liberation Sans', sans-serif" font-size="22" font-weight="bold" fill="#fff" text-anchor="middle" x="179.6" y="1199.6">1</text>
</g>
<g filter="url(#tshadow)">
<text font-family="'Liberation Sans', sans-serif" font-size="29" fill="#fff" stroke="#fff" stroke-width="0.8" x="210.1" y="1199.6" textLength="60" lengthAdjust="spacingAndGlyphs">2020</text>
<rect x="282.1" y="1179.8" width="23.2" height="23.2" rx="6.5" fill="none" stroke="#fff" stroke-width="1.7"/>
<text font-family="'Liberation Sans', sans-serif" font-size="22" font-weight="bold" fill="#fff" text-anchor="middle" x="293.7" y="1199.6">2</text>
</g>
<g filter="url(#tshadow)">
<text font-family="'Liberation Sans', sans-serif" font-size="29" fill="#fff" stroke="#fff" stroke-width="0.8" x="340.3" y="1199.6" textLength="60" lengthAdjust="spacingAndGlyphs">2020</text>
<rect x="412.3" y="1179.8" width="23.2" height="23.2" rx="6.5" fill="none" stroke="#fff" stroke-width="1.7"/>
<text font-family="'Liberation Sans', sans-serif" font-size="22" font-weight="bold" fill="#fff" text-anchor="middle" x="423.9" y="1199.6">3</text>
</g>
<g filter="url(#tshadow)">
<text font-family="'Liberation Sans', sans-serif" font-size="29" fill="#fff" stroke="#fff" stroke-width="0.8" x="469.0" y="1199.6" textLength="60" lengthAdjust="spacingAndGlyphs">2020</text>
<rect x="541.0" y="1179.8" width="23.2" height="23.2" rx="6.5" fill="none" stroke="#fff" stroke-width="1.7"/>
<text font-family="'Liberation Sans', sans-serif" font-size="22" font-weight="bold" fill="#fff" text-anchor="middle" x="552.6" y="1199.6">4</text>
</g>
<g filter="url(#tshadow)">
<text font-family="'Liberation Sans', sans-serif" font-size="29" fill="#fff" stroke="#fff" stroke-width="0.8" x="607.0" y="1199.6" textLength="60" lengthAdjust="spacingAndGlyphs">2021</text>
<rect x="679.0" y="1179.8" width="23.2" height="23.2" rx="6.5" fill="none" stroke="#fff" stroke-width="1.7"/>
<text font-family="'Liberation Sans', sans-serif" font-size="22" font-weight="bold" fill="#fff" text-anchor="middle" x="690.6" y="1199.6">1</text>
</g>
<g filter="url(#tshadow)">
<text font-family="'Liberation Sans', sans-serif" font-size="29" fill="#fff" stroke="#fff" stroke-width="0.8" x="734.4" y="1199.6" textLength="60" lengthAdjust="spacingAndGlyphs">2021</text>
<rect x="806.4" y="1179.8" width="23.2" height="23.2" rx="6.5" fill="none" stroke="#fff" stroke-width="1.7"/>
<text font-family="'Liberation Sans', sans-serif" font-size="22" font-weight="bold" fill="#fff" text-anchor="middle" x="818.0" y="1199.6">2</text>
</g>
<g filter="url(#tshadow)">
<text font-family="'Liberation Sans', sans-serif" font-size="29" fill="#fff" stroke="#fff" stroke-width="0.8" x="865.0" y="1199.6" textLength="60" lengthAdjust="spacingAndGlyphs">2021</text>
<rect x="937.0" y="1179.8" width="23.2" height="23.2" rx="6.5" fill="none" stroke="#fff" stroke-width="1.7"/>
<text font-family="'Liberation Sans', sans-serif" font-size="22" font-weight="bold" fill="#fff" text-anchor="middle" x="948.6" y="1199.6">3</text>
</g>
<g filter="url(#tshadow)">
<text font-family="'Liberation Sans', sans-serif" font-size="29" fill="#fff" stroke="#fff" stroke-width="0.8" x="994.9" y="1199.6" textLength="60" lengthAdjust="spacingAndGlyphs">2021</text>
<rect x="1066.9" y="1179.8" width="23.2" height="23.2" rx="6.5" fill="none" stroke="#fff" stroke-width="1.7"/>
<text font-family="'Liberation Sans', sans-serif" font-size="22" font-weight="bold" fill="#fff" text-anchor="middle" x="1078.5" y="1199.6">4</text>
</g>
<g filter="url(#tshadow)">
<text font-family="'Liberation Sans', sans-serif" font-size="29" fill="#fff" stroke="#fff" stroke-width="0.8" x="1127.3" y="1199.6" textLength="60" lengthAdjust="spacingAndGlyphs">2022</text>
<rect x="1199.3" y="1179.8" width="23.2" height="23.2" rx="6.5" fill="none" stroke="#fff" stroke-width="1.7"/>
<text font-family="'Liberation Sans', sans-serif" font-size="22" font-weight="bold" fill="#fff" text-anchor="middle" x="1210.9" y="1199.6">1</text>
</g>
<g filter="url(#tshadow)">
<text font-family="'Liberation Sans', sans-serif" font-size="29" fill="#fff" stroke="#fff" stroke-width="0.8" x="1257.6" y="1199.6" textLength="60" lengthAdjust="spacingAndGlyphs">2022</text>
<rect x="1329.6" y="1179.8" width="23.2" height="23.2" rx="6.5" fill="none" stroke="#fff" stroke-width="1.7"/>
<text font-family="'Liberation Sans', sans-serif" font-size="22" font-weight="bold" fill="#fff" text-anchor="middle" x="1341.2" y="1199.6">2</text>
</g>
<g filter="url(#tshadow)">
<text font-family="'Liberation Sans', sans-serif" font-size="29" fill="#fff" stroke="#fff" stroke-width="0.8" x="1388.2" y="1199.6" textLength="60" lengthAdjust="spacingAndGlyphs">2022</text>
<rect x="1460.2" y="1179.8" width="23.2" height="23.2" rx="6.5" fill="none" stroke="#fff" stroke-width="1.7"/>
<text font-family="'Liberation Sans', sans-serif" font-size="22" font-weight="bold" fill="#fff" text-anchor="middle" x="1471.8" y="1199.6">3</text>
</g>
<g filter="url(#tshadow)">
<text font-family="'Liberation Sans', sans-serif" font-size="29" fill="#fff" stroke="#fff" stroke-width="0.8" x="1518.5" y="1199.6" textLength="60" lengthAdjust="spacingAndGlyphs">2022</text>
<rect x="1590.5" y="1179.8" width="23.2" height="23.2" rx="6.5" fill="none" stroke="#fff" stroke-width="1.7"/>
<text font-family="'Liberation Sans', sans-serif" font-size="22" font-weight="bold" fill="#fff" text-anchor="middle" x="1602.1" y="1199.6">4</text>
</g>
<g filter="url(#tshadow)">
<text font-family="'Liberation Sans', sans-serif" font-size="29" fill="#fff" stroke="#fff" stroke-width="0.8" x="1650.9" y="1199.6" textLength="60" lengthAdjust="spacingAndGlyphs">2023</text>
<rect x="1722.9" y="1179.8" width="23.2" height="23.2" rx="6.5" fill="none" stroke="#fff" stroke-width="1.7"/>
<text font-family="'Liberation Sans', sans-serif" font-size="22" font-weight="bold" fill="#fff" text-anchor="middle" x="1734.5" y="1199.6">1</text>
</g>
<g filter="url(#tshadow)">
<text font-family="'Liberation Sans', sans-serif" font-size="29" fill="#fff" stroke="#fff" stroke-width="0.8" x="1782.4" y="1199.6" textLength="60" lengthAdjust="spacingAndGlyphs">2023</text>
<rect x="1854.4" y="1179.8" width="23.2" height="23.2" rx="6.5" fill="none" stroke="#fff" stroke-width="1.7"/>
<text font-family="'Liberation Sans', sans-serif" font-size="22" font-weight="bold" fill="#fff" text-anchor="middle" x="1866.0" y="1199.6">2</text>
</g>
</g>
</svg></body></html>
